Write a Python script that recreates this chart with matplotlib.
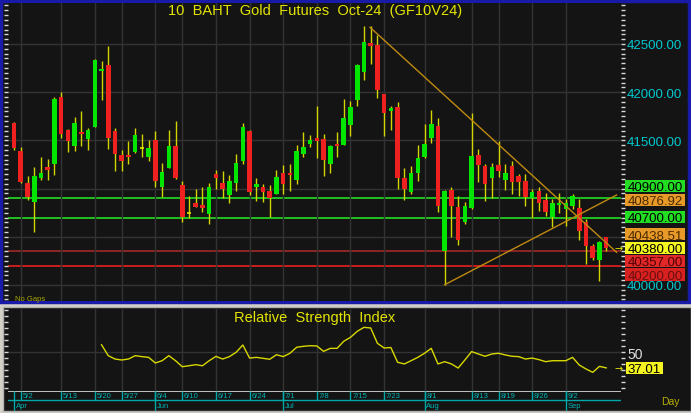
import matplotlib
matplotlib.use('Agg')
import matplotlib.pyplot as plt
import matplotlib.transforms as mtransforms
from matplotlib.patches import Rectangle
from matplotlib.ticker import MultipleLocator
import numpy as np

plt.rcParams['font.family'] = ['Liberation Sans', 'DejaVu Sans']

W, H = 691, 414

# daily candles, 4/30 .. 9/10 (one entry per trading day)
opens = [41680, 41390, 41055, 40865, 41115, 41228, 41250, 41947, 41611, 41445,
         41590, 41515, 41642, 42220, 42282, 41601, 41352, 41345, 41380, 41421,
         41325, 41504, 41020, 41217, 41442, 41037, 40744, 40854, 40826, 40736,
         41151, 41055, 40934, 41055, 41286, 41601, 41020, 41017, 40975, 40944,
         41162, 41162, 41092, 41362, 41463, 41525, 41515, 41255, 41463, 41456,
         41660, 41919, 42210, 42510, 42493, 41981, 41805, 41850, 41110, 40962,
         41162, 41325, 41525, 41653, 40350, 40986, 40806, 40657, 40796, 41349,
         41231, 41107, 41248, 41092, 41234, 41131, 41079, 40900, 40975, 40882,
         40702, 40830, 40788, 40817, 40796, 40651, 40402, 40263, 40495]
highs = [41690, 41430, 41135, 41220, 41325, 41307, 41947, 42000, 41620, 41740,
         41802, 41630, 42340, 42320, 42483, 41632, 41404, 41497, 41632, 41563,
         41504, 41601, 41262, 41611, 41698, 41075, 40920, 40996, 41013, 41058,
         41196, 41183, 41145, 41359, 41677, 41608, 41110, 41048, 41037, 41193,
         41245, 41255, 41452, 41590, 41556, 41854, 41566, 41456, 41584, 41930,
         41912, 42292, 42690, 42684, 42593, 41985, 41854, 41894, 41214, 41238,
         41452, 41670, 41815, 41732, 40986, 41013, 40927, 40865, 41781, 41411,
         41255, 41266, 41497, 41255, 41283, 41151, 41151, 40996, 41013, 40955,
         40892, 40955, 40892, 40944, 40892, 40685, 40425, 40460, 40500]
lows = [41400, 41060, 40885, 40545, 41090, 41092, 41145, 41525, 41383, 41393,
        41445, 41404, 41640, 41922, 41411, 41186, 41186, 41255, 41369, 41325,
        41290, 41013, 40910, 41214, 41100, 40651, 40692, 40810, 40754, 40633,
        40996, 40900, 40851, 40975, 41255, 40937, 40875, 40865, 40702, 40944,
        40944, 40975, 41048, 41325, 41428, 41314, 41134, 41162, 41325, 41456,
        41549, 41860, 42127, 42292, 41940, 41549, 41611, 40996, 40885, 40944,
        41075, 41320, 41473, 40754, 39995, 40495, 40418, 40633, 40788, 41066,
        40875, 40903, 41117, 40989, 40944, 40927, 40817, 40692, 40765, 40719,
        40598, 40744, 40615, 40788, 40470, 40218, 40263, 40045, 40350]
closes = [41420, 41070, 40915, 41135, 41160, 41196, 41930, 41563, 41494, 41680,
          41563, 41611, 42337, 42241, 41525, 41356, 41286, 41325, 41552, 41421,
          41421, 41082, 41169, 41442, 41113, 40709, 40744, 40812, 40796, 41013,
          41113, 40996, 41082, 41266, 41642, 40968, 41048, 40965, 40903, 41117,
          41048, 41145, 41390, 41432, 41504, 41497, 41297, 41445, 41442, 41732,
          41843, 42282, 42521, 42482, 42023, 41781, 41833, 41107, 40996, 41162,
          41314, 41463, 41670, 40823, 40979, 40823, 40467, 40823, 41335, 41248,
          41048, 41221, 41186, 41162, 41072, 41066, 40916, 40965, 40848, 40761,
          40854, 40854, 40854, 40924, 40561, 40408, 40277, 40443, 40380]

rsi_start = 13
rsi = [56.3, 47.2, 44.4, 43.6, 44.4, 47.2, 46.4, 45.8, 41.1, 43.0,
       47.2, 43.0, 38.0, 38.8, 39.7, 38.8, 43.0, 46.6, 44.4, 46.4,
       50.0, 56.1, 45.2, 45.8, 45.0, 44.2, 48.0, 46.4, 49.2, 54.2,
       55.0, 55.5, 55.3, 50.8, 53.3, 53.3, 59.2, 62.5, 67.5, 70.8,
       70.3, 57.5, 53.6, 54.0, 41.7, 40.3, 43.0, 45.8, 49.2, 53.3,
       40.3, 42.2, 40.3, 36.9, 43.6, 50.6, 48.6, 46.7, 48.6, 49.2,
       47.8, 46.7, 46.4, 44.4, 45.2, 43.9, 42.2, 43.0, 43.0, 43.0,
       45.8, 39.4, 36.1, 33.3, 38.3, 37.01]

tick_idx = [1, 7, 12, 16, 21, 25, 30, 35, 40, 45, 50, 55, 61, 68, 72, 77, 82]
tick_labels = ['5/2', '5/13', '5/20', '5/27', '6/4', '6/10', '6/17', '6/24', '7/1',
               '7/8', '7/15', '7/23', '8/1', '8/13', '8/19', '8/26', '9/2']
month_idx = [0, 21, 40, 61, 82]
month_labels = ['Apr', 'Jun', 'Jul', 'Aug', 'Sep']

levels = [40900, 40700, 40357, 40200]
level_colors = ['#22dd22', '#22dd22', '#a02828', '#e82020']

down_x, down_y = [52.9, 89.55], [42673, 40339]
up_x, up_y = [64.0, 89.55], [40003, 40934]

axis_prices = [42500, 42000, 41500, 40000]

marker_text = ['40900.00', '40876.92', '40700.00', '40438.51', '40380.00', '40357.00', '40200.00']
marker_bg = ['#22dd22', '#e89a28', '#22dd22', '#e89a28', '#f4f420', '#e02828', '#d82020']
marker_fg = ['#000000', '#4a2a00', '#000000', '#4a2a00', '#000000', '#500000', '#6a1010']
marker_y = [186.7, 200.8, 218, 235.3, 249, 262, 275.5]

BG = '#141414'
GRID = '#333333'

fig = plt.figure(figsize=(W / 100, H / 100), dpi=100, facecolor='#d4d0c8')
pix = mtransforms.Affine2D().scale(1 / W, -1 / H).translate(0, 1) + fig.transFigure


def box(x0, y0, x1, y1):
    return [x0 / W, 1 - y1 / H, (x1 - x0) / W, (y1 - y0) / H]


fig.add_artist(Rectangle((1.5, 2), 687.5, 301, transform=pix, facecolor=BG,
                         edgecolor='#1a1aa8', lw=2.5, zorder=-2))
fig.add_artist(Rectangle((3, 308), 688, 104, transform=pix, facecolor=BG,
                         edgecolor='#b0b0b0', lw=1, zorder=-2))

# ---- price panel
ax = fig.add_axes(box(8, 4, 621, 302))
ax.set_facecolor(BG)
ax.set_xlim(-0.9, 90.2)
ax.set_ylim(39834, 42925)
for s in ax.spines.values():
    s.set_visible(False)
ax.set_xticks(tick_idx)
ax.tick_params(axis='x', length=0, labelbottom=False)
ax.set_yticks(range(40000, 43000, 500))
ax.yaxis.set_minor_locator(MultipleLocator(50))
ax.tick_params(axis='y', which='both', left=True, right=True, labelleft=False,
               direction='out', length=3, color='#d8d8d8', width=1)
ax.grid(True, color=GRID, lw=1)

x = np.arange(len(opens))
o, h, l, c = map(np.array, (opens, highs, lows, closes))
ax.vlines(x, l, h, color='#d4d400', lw=1, zorder=2)
body = c != o
cols = np.where(c > o, '#00e600', '#ee2020')
ax.bar(x[body], np.abs(c - o)[body], bottom=np.minimum(o, c)[body], width=0.68,
       color=cols[body], zorder=3)
ax.hlines(c[~body], x[~body] - 0.34, x[~body] + 0.34, color='#e8e800', lw=1.2, zorder=3)

for v, col in zip(levels, level_colors):
    ax.axhline(v, color=col, lw=1.2, zorder=1)
ax.plot(down_x, down_y, color='#c08a10', lw=1, zorder=4)
ax.plot(up_x, up_y, color='#c08a10', lw=1, zorder=4)

for p in axis_prices:
    ax.text(1.0098, p, f'{p:.2f}', transform=ax.get_yaxis_transform(), color='#00c8d0',
            fontsize=9.5, va='center_baseline', ha='left')

for t, bg, fg, yc in zip(marker_text, marker_bg, marker_fg, marker_y):
    fig.add_artist(Rectangle((625.5, yc - 6.1), 60, 12.2, transform=pix, facecolor=bg,
                             edgecolor='none', zorder=5))
    fig.text(655.5, yc, t, transform=pix, color=fg, fontsize=9.5, ha='center',
             va='center_baseline', zorder=6)

ax.text(x[-1] + 1.3, closes[-1], '→', color='#e8e800', fontsize=7, va='center',
        family='DejaVu Sans', zorder=5)

fig.text(315, 11, '10  BAHT  Gold  Futures  Oct-24  (GF10V24)', transform=pix,
         color='#e4e400', fontsize=10.5, ha='center', va='center')
fig.text(15, 299.5, 'No Gaps', transform=pix, color='#a8a800', fontsize=5.5, va='center')

# ---- RSI panel
ax2 = fig.add_axes(box(8, 310, 621, 392))
ax2.set_facecolor(BG)
ax2.set_xlim(-0.9, 90.2)
ax2.set_ylim(17.75, 86.1)
for s in ax2.spines.values():
    s.set_visible(False)
ax2.set_xticks(tick_idx)
ax2.tick_params(axis='x', length=0, labelbottom=False)
ax2.set_yticks([50])
ax2.yaxis.set_minor_locator(MultipleLocator(5))
ax2.tick_params(axis='y', which='both', left=True, right=True, labelleft=False,
                direction='out', length=3, color='#d8d8d8', width=1)
ax2.grid(True, color=GRID, lw=1)
ax2.plot(np.arange(rsi_start, rsi_start + len(rsi)), rsi, color='#d8d800', lw=1)
ax2.text(0.5, 0.9, 'Relative  Strength  Index', transform=ax2.transAxes, color='#e4e400',
         fontsize=10.5, ha='center', va='center')
ax2.text(1.0098, 50, '50', transform=ax2.get_yaxis_transform(), color='#e0e0e0',
         fontsize=10, va='center_baseline')
ax2.text(x[-1] + 1.3, rsi[-1], '→', color='#e8e800', fontsize=7, va='center',
         family='DejaVu Sans')
fig.add_artist(Rectangle((626, 362.7), 37, 12.3, transform=pix, facecolor='#f4f420',
                         edgecolor='none', zorder=5))
fig.text(644.5, 369, f'{rsi[-1]:.2f}', transform=pix, color='#000000', fontsize=9.5,
         ha='center', va='center_baseline', zorder=6)

# ---- date strip
ax3 = fig.add_axes(box(8, 392, 621, 412))
ax3.set_facecolor(BG)
ax3.set_xlim(-0.9, 90.2)
ax3.set_ylim(20, 0)
ax3.axis('off')
ax3.axhline(0.3, color='#e0e0e0', lw=1.2)
ax3.axhline(9, color='#00a8a8', lw=1)
ax3.vlines(tick_idx, 0, 9, color='#00a8a8', lw=1)
ax3.vlines(month_idx, 0, 20, color='#00a8a8', lw=1)
for i, t in zip(tick_idx, tick_labels):
    ax3.text(i + 0.25, 5, t, color='#00b4b4', fontsize=5.5, va='center')
for i, t in zip(month_idx, month_labels):
    ax3.text(i + 0.25, 14.5, t, color='#00b4b4', fontsize=5.5, va='center')

fig.text(661, 402, 'Day', transform=pix, color='#b8b000', fontsize=7.5, va='center')

fig.savefig('out.png', dpi=100, facecolor=fig.get_facecolor())
